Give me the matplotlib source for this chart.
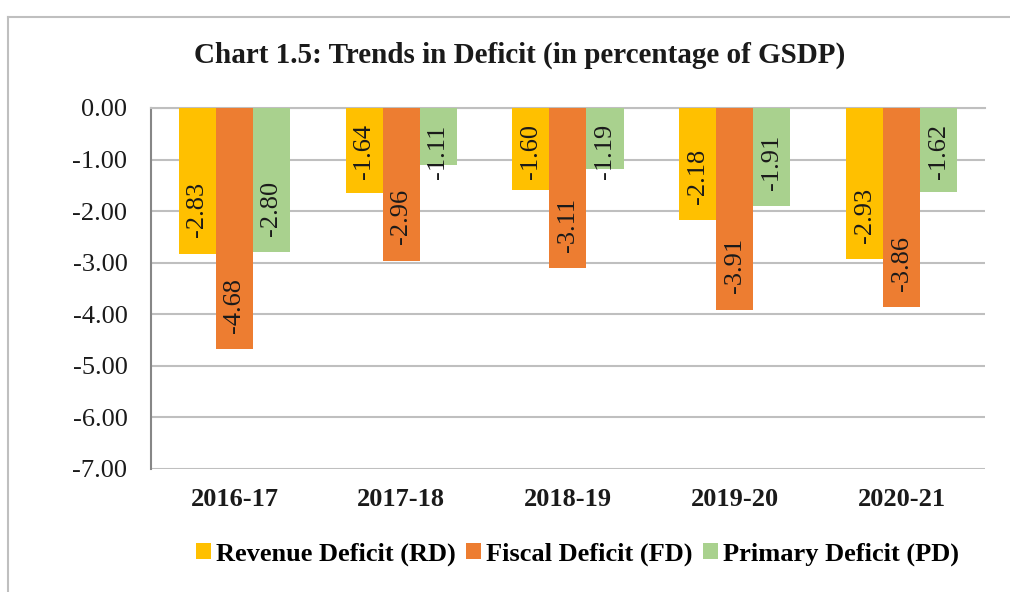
import numpy as np
import matplotlib.pyplot as plt
from matplotlib.patches import Patch
from matplotlib.lines import Line2D

# data
years = ['2016-17', '2017-18', '2018-19', '2019-20', '2020-21']
revenue_deficit = [-2.83, -1.64, -1.60, -2.18, -2.93]
fiscal_deficit = [-4.68, -2.96, -3.11, -3.91, -3.86]
primary_deficit = [-2.80, -1.11, -1.19, -1.91, -1.62]
series_names = ['Revenue Deficit (RD)', 'Fiscal Deficit (FD)', 'Primary Deficit (PD)']
colors = ['#FFC000', '#ED7D31', '#A9D18E']
y_ticks = [0, -1, -2, -3, -4, -5, -6, -7]

plt.rcParams['font.family'] = ['Liberation Serif', 'DejaVu Serif']

fig = plt.figure(figsize=(10.1, 5.92), dpi=100)
ax = fig.add_axes([0.1495, 0.2078, 0.8257, 0.6098])

# frame around the chart (only top and left edges show)
fig.add_artist(Line2D([0.008, 1.0], [0.971, 0.971], transform=fig.transFigure,
                      color='#BFBFBF', lw=1.5))
fig.add_artist(Line2D([0.008, 0.008], [0.0, 0.971], transform=fig.transFigure,
                      color='#BFBFBF', lw=1.5))

x = np.arange(len(years))
w = 0.222
all_series = [revenue_deficit, fiscal_deficit, primary_deficit]
for i, vals in enumerate(all_series):
    pos = x + (i - 1) * w
    ax.bar(pos, vals, width=w, color=colors[i], zorder=3)
    for p, v in zip(pos, vals):
        # label sits just inside the bar end, but not past the top
        yb = min(v + 0.32, -1.37)
        ax.text(p, yb, f'{v:.2f}', rotation=90, ha='center', va='bottom',
                fontsize=19, color='#1a1a1a', zorder=4)

ax.set_xlim(-0.5, len(years) - 0.5)
ax.set_ylim(-7, 0)
ax.set_yticks(y_ticks)
ax.set_yticklabels([f'{t:.2f}' for t in y_ticks], fontsize=19)
ax.set_xticks(x)
ax.set_xticklabels(years, fontsize=19, fontweight='bold')
ax.tick_params(axis='both', length=0, colors='#1a1a1a')
ax.tick_params(axis='y', pad=17)
ax.tick_params(axis='x', pad=14)
ax.yaxis.grid(True, color='#BFBFBF', lw=1.5, zorder=0)
for s in ['right', 'bottom']:
    ax.spines[s].set_visible(False)
ax.spines['top'].set_color('#BFBFBF')
ax.spines['top'].set_linewidth(1.5)
ax.spines['left'].set_color('#868686')
ax.spines['left'].set_linewidth(1.5)

fig.text(0.514, 0.907, 'Chart 1.5: Trends in Deficit (in percentage of GSDP)',
         ha='center', va='center', fontsize=21, fontweight='bold', color='#1a1a1a')

handles = [Patch(facecolor=c, edgecolor='none') for c in colors]
fig.legend(handles, series_names, loc='center', bbox_to_anchor=(0.572, 0.064),
           ncol=3, frameon=False, handlelength=0.55, handleheight=0.55,
           handletextpad=0.2, columnspacing=0.4,
           prop={'size': 19, 'weight': 'bold'})

fig.savefig('out.png', dpi=100)
